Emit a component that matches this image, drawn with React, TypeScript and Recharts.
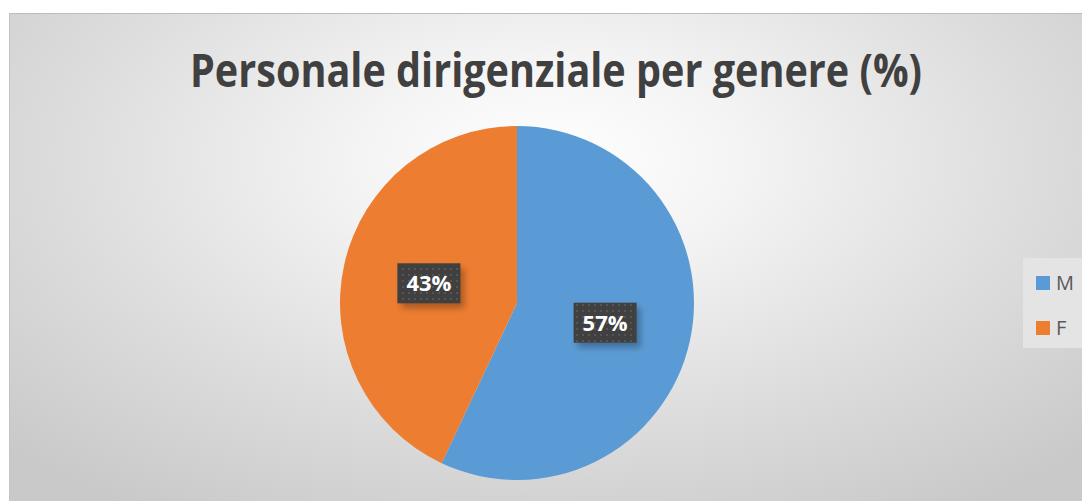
import React from "react";
import { PieChart, Pie, Cell } from "recharts";

const categories = ["M", "F"];
const values = [57, 43];
const colors = ["#5B9BD5", "#ED7D31"];
const titleText = "Personale dirigenziale per genere (%)";

const data = categories.map((name, i) => ({ name, value: values[i] }));

const RAD = Math.PI / 180;

const renderLabel = (props: any) => {
  const { cx, cy, midAngle, outerRadius, value, index } = props;
  const r = outerRadius * 0.51;
  const x = cx + r * Math.cos(-midAngle * RAD);
  const y = cy + r * Math.sin(-midAngle * RAD);
  const w = 63;
  const h = 40;
  return (
    <g key={`lbl-${index}`}>
      <rect x={x - w / 2 + 4} y={y - h / 2 + 5} width={w} height={h} fill="rgba(0,0,0,0.28)" filter="url(#blurShadow)" />
      <rect x={x - w / 2} y={y - h / 2} width={w} height={h} fill="#404040" />
      <rect x={x - w / 2} y={y - h / 2} width={w} height={h} fill="url(#dots)" />
      <text
        x={x}
        y={y + 8}
        textAnchor="middle"
        fill="#ffffff"
        fontFamily="'Open Sans', sans-serif"
        fontWeight={700}
        fontSize={22}
      >
        {`${value}%`}
      </text>
    </g>
  );
};

export default function App() {
  return (
    <div
      style={{
        position: "relative",
        marginTop: 5,
        marginLeft: 1,
        width: 1081,
        height: 488,
        borderTop: "1px solid #bcbcbc",
        borderLeft: "1px solid #c4c4c4",
        background:
          "radial-gradient(ellipse 70% 85% at 50% 30%, #ffffff 0%, #f4f4f4 25%, #dcdcdc 65%, #c9c9c9 100%)",
        boxSizing: "border-box",
        overflow: "hidden",
      }}
    >
      <svg width={1081} height={120} style={{ position: "absolute", left: 0, top: 0 }}>
        <text
          x={546}
          y={73}
          textAnchor="middle"
          fill="#404040"
          fontFamily="'Open Sans', sans-serif"
          fontWeight={700}
          fontSize={47}
          textLength={732}
          lengthAdjust="spacingAndGlyphs"
        >
          {titleText}
        </text>
      </svg>
      <div style={{ position: "absolute", left: 0, top: 0 }}>
        <PieChart width={1081} height={488}>
          <defs>
            <pattern id="dots" width="6" height="6" patternUnits="userSpaceOnUse">
              <rect x="2" y="2" width="2" height="2" fill="#555555" />
            </pattern>
            <filter id="blurShadow" x="-20%" y="-20%" width="140%" height="140%">
              <feGaussianBlur stdDeviation="3" />
            </filter>
          </defs>
          <Pie
            data={data}
            dataKey="value"
            nameKey="name"
            cx={502}
            cy={284}
            outerRadius={177}
            startAngle={90}
            endAngle={-270}
            stroke="none"
            isAnimationActive={false}
            labelLine={false}
            label={renderLabel}
          >
            {data.map((d, i) => (
              <Cell key={d.name} fill={colors[i]} />
            ))}
          </Pie>
        </PieChart>
      </div>
      <div
        style={{
          position: "absolute",
          left: 1013,
          top: 244,
          width: 64,
          height: 90,
          background: "#e4e4e4",
          fontFamily: "'Open Sans', sans-serif",
          fontSize: 20,
          color: "#595959",
        }}
      >
        {categories.map((c, i) => (
          <div
            key={c}
            style={{
              position: "absolute",
              left: 13,
              top: i === 0 ? 14 : 59,
              display: "flex",
              alignItems: "center",
              height: 22,
            }}
          >
            <span style={{ display: "inline-block", width: 14, height: 14, background: colors[i], marginRight: 6 }} />
            <span style={{ lineHeight: "22px" }}>{c}</span>
          </div>
        ))}
      </div>
    </div>
  );
}
